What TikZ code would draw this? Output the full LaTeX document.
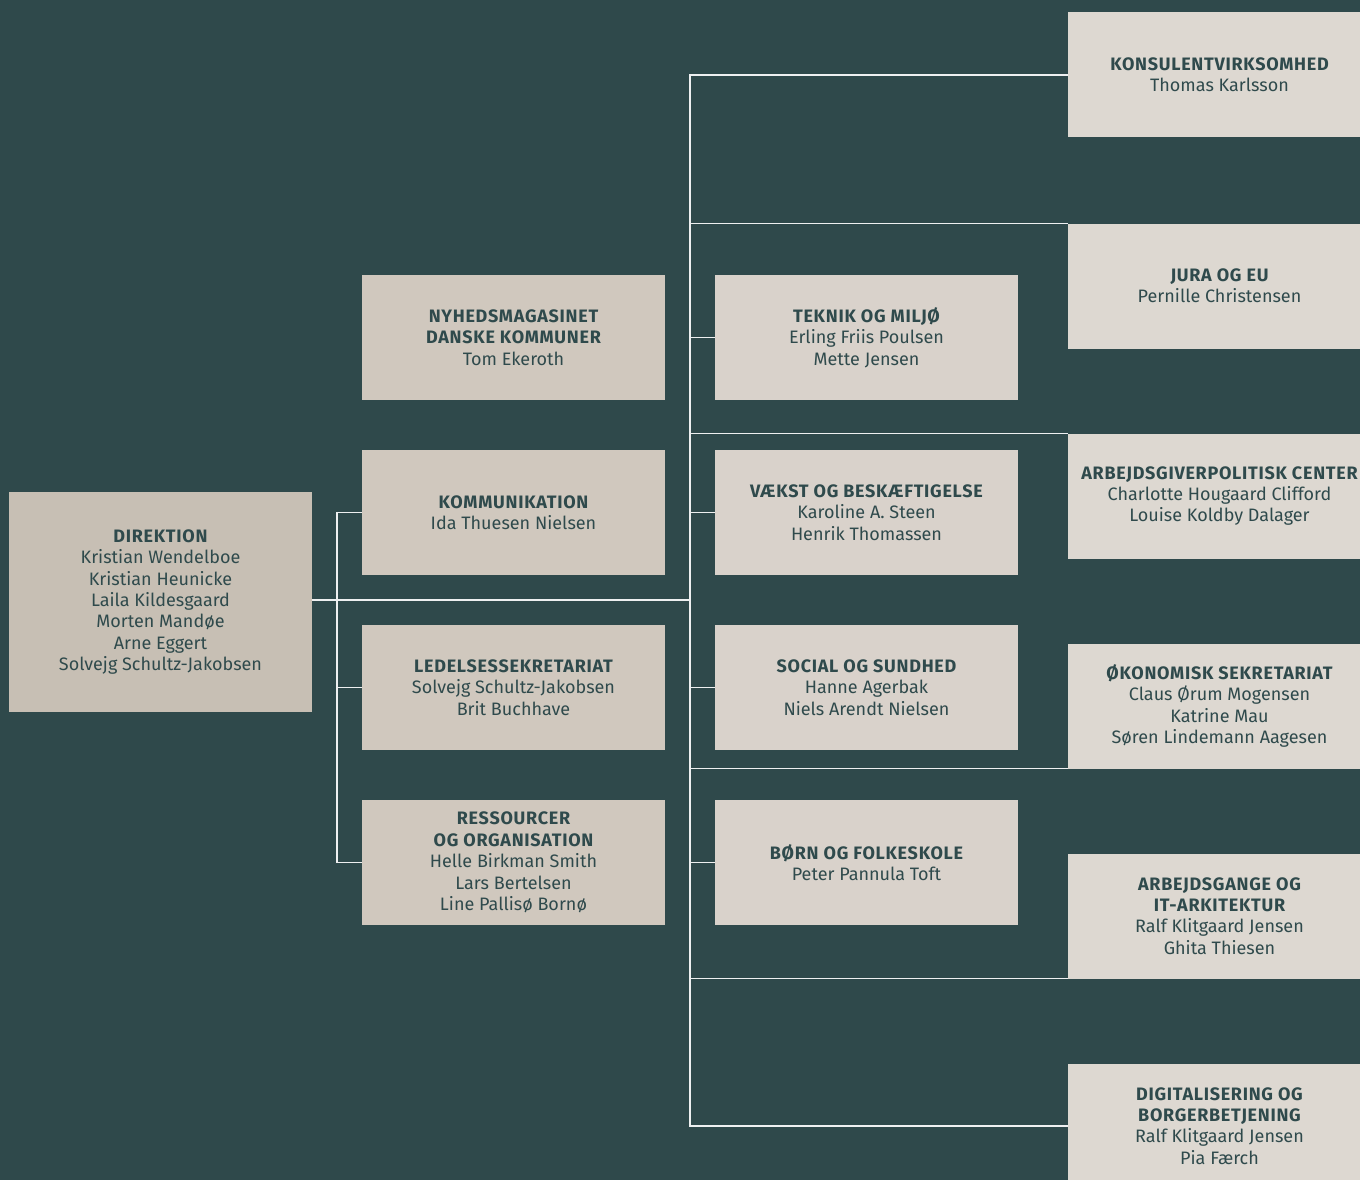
\documentclass[tikz,border=0pt]{standalone}
\usepackage{fontspec}
\setmainfont{Fira Sans}
\definecolor{bg}{HTML}{2F494B}
\definecolor{cdir}{HTML}{C7BFB4}
\definecolor{cleft}{HTML}{D0C8BE}
\definecolor{cmid}{HTML}{D9D2CB}
\definecolor{cright}{HTML}{DDD8D1}
\definecolor{ctext}{HTML}{2F4A4C}
\newcommand{\hd}[1]{{\bfseries\addfontfeature{LetterSpace=4}#1}}
\tikzset{
  orgbox/.style={minimum width=303pt, minimum height=125pt, inner sep=0pt, align=center,
    text=ctext, font=\fontsize{18}{21.4}\selectfont},
  conn/.style={draw=white!92!bg, line width=1.4pt},
}
\begin{document}
\begin{tikzpicture}[x=1pt,y=-1pt]
\fill[bg] (0,0) rectangle (1360,1180);
\useasboundingbox (0,0) rectangle (1360,1180);
\clip (0,0) rectangle (1360,1180);
% Direktion
\node[orgbox, fill=cdir, minimum height=220pt] (dir) at (160.5,602) {\hd{DIREKTION}\\Kristian Wendelboe\\Kristian Heunicke\\Laila Kildesgaard\\Morten Mandøe\\Arne Eggert\\Solvejg Schultz-Jakobsen};
% Left column
\node[orgbox, fill=cleft] (nyh) at (513.5,337.5) {\hd{NYHEDSMAGASINET}\\\hd{DANSKE KOMMUNER}\\Tom Ekeroth};
\node[orgbox, fill=cleft] (kom) at (513.5,512.5) {\hd{KOMMUNIKATION}\\Ida Thuesen Nielsen};
\node[orgbox, fill=cleft] (led) at (513.5,687.5) {\hd{LEDELSESSEKRETARIAT}\\Solvejg Schultz-Jakobsen\\Brit Buchhave};
\node[orgbox, fill=cleft] (res) at (513.5,862.5) {\hd{RESSOURCER}\\\hd{OG ORGANISATION}\\Helle Birkman Smith\\Lars Bertelsen\\Line Pallisø Bornø};
% Middle column
\node[orgbox, fill=cmid] (tek) at (866.5,337.5) {\hd{TEKNIK OG MILJØ}\\Erling Friis Poulsen\\Mette Jensen};
\node[orgbox, fill=cmid] (vae) at (866.5,512.5) {\hd{VÆKST OG BESKÆFTIGELSE}\\Karoline A. Steen\\Henrik Thomassen};
\node[orgbox, fill=cmid] (soc) at (866.5,687.5) {\hd{SOCIAL OG SUNDHED}\\Hanne Agerbak\\Niels Arendt Nielsen};
\node[orgbox, fill=cmid] (bor) at (866.5,862.5) {\hd{BØRN OG FOLKESKOLE}\\Peter Pannula Toft};
% Right column
\node[orgbox, fill=cright] (kons) at (1219.5,75) {\hd{KONSULENTVIRKSOMHED}\\Thomas Karlsson};
\node[orgbox, fill=cright] (jura) at (1219.5,286) {\hd{JURA OG EU}\\Pernille Christensen};
\node[orgbox, fill=cright] (arb) at (1219.5,496) {\hd{ARBEJDSGIVERPOLITISK CENTER}\\Charlotte Hougaard Clifford\\Louise Koldby Dalager};
\node[orgbox, fill=cright] (oko) at (1219.5,706) {\hd{ØKONOMISK SEKRETARIAT}\\Claus Ørum Mogensen\\Katrine Mau\\Søren Lindemann Aagesen};
\node[orgbox, fill=cright] (ait) at (1219.5,916) {\hd{ARBEJDSGANGE OG}\\\hd{IT-ARKITEKTUR}\\Ralf Klitgaard Jensen\\Ghita Thiesen};
\node[orgbox, fill=cright] (dig) at (1219.5,1126) {\hd{DIGITALISERING OG}\\\hd{BORGERBETJENING}\\Ralf Klitgaard Jensen\\Pia Færch};
% Connectors
\coordinate (hub) at (690,600);
\draw[conn] (hub -| dir.east) -- (hub);
\draw[conn] (kom.west) -- ++(-25,0) |- (res.west);
\draw[conn] (led.west) -- ++(-25,0);
\draw[conn] (kons.west) -- ++(-378,0) |- (dig.west);
\draw[conn] (jura.north west) -- ++(-378,0);
\draw[conn] (arb.north west) -- ++(-378,0);
\draw[conn] (oko.south west) -- ++(-378,0);
\draw[conn] (ait.south west) -- ++(-378,0);
\draw[conn] (tek.west) -- ++(-25,0);
\draw[conn] (vae.west) -- ++(-25,0);
\draw[conn] (soc.west) -- ++(-25,0);
\draw[conn] (bor.west) -- ++(-25,0);
\end{tikzpicture}
\end{document}
